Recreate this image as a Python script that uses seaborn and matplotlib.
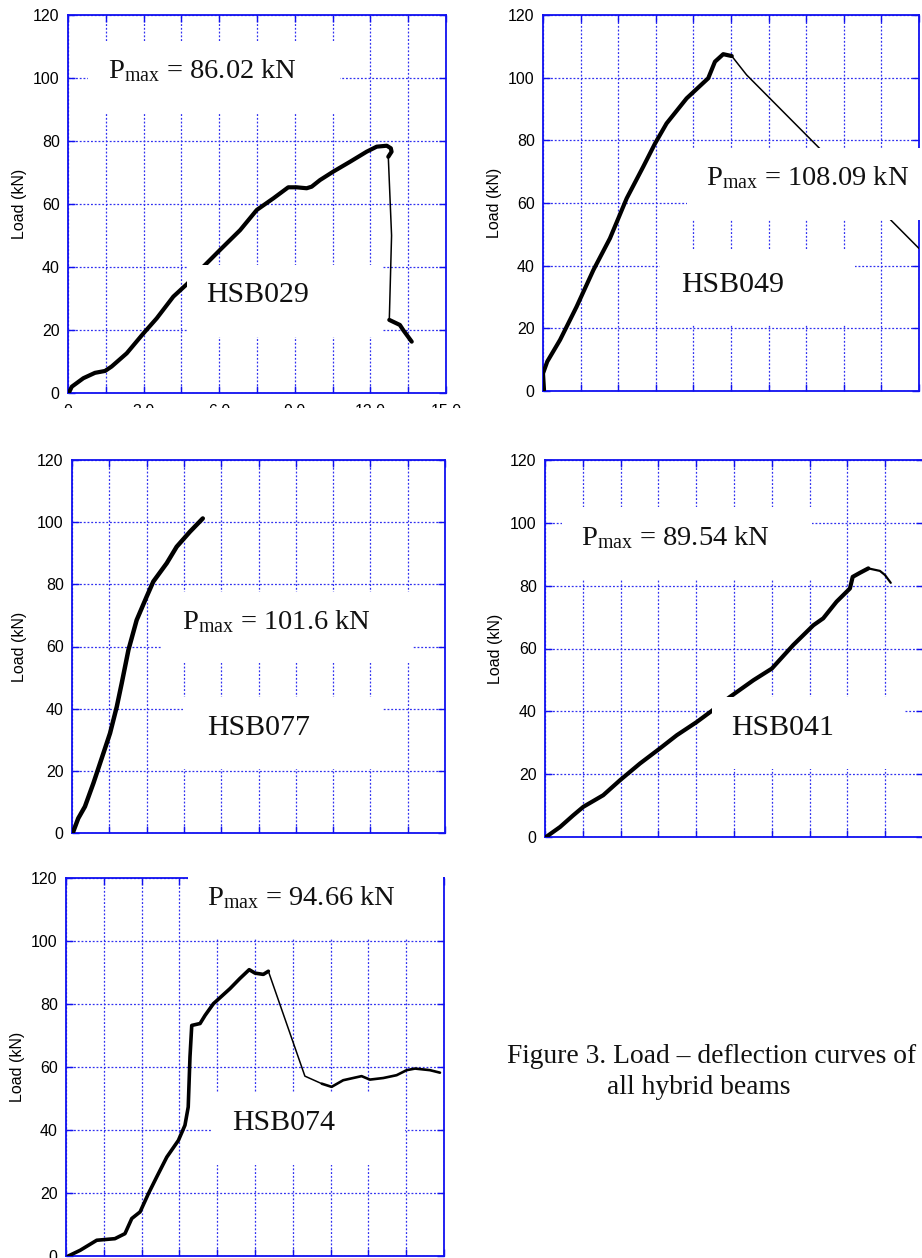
import numpy as np
import matplotlib
matplotlib.use("Agg")
import matplotlib.pyplot as plt
from matplotlib.patches import Rectangle
from matplotlib.ticker import FixedLocator, FixedFormatter
import seaborn as sns

# ---------------- data ----------------
beam_names = ["HSB029", "HSB049", "HSB077", "HSB041", "HSB074"]
pmax_labels = ["86.02", "108.09", "101.6", "89.54", "94.66"]

hsb029_defl = [0.03, 0.15, 0.61, 1.07, 1.47, 1.73, 2.33, 2.99, 3.52, 4.18, 4.75, 5.37, 6.03,
               6.83, 7.49, 8.15, 8.74, 9.07, 9.47, 9.67, 10.0, 10.53, 11.19, 11.85, 12.25,
               12.65, 12.81, 12.84, 12.71, 12.84, 12.75, 13.17, 13.3, 13.64]
hsb029_load = [0.0, 2.0, 4.7, 6.4, 7.0, 8.4, 12.6, 18.9, 23.7, 30.6, 34.8, 40.1, 45.4,
               51.7, 58.1, 61.8, 65.3, 65.3, 65.0, 65.5, 67.6, 70.3, 73.4, 76.6, 78.2,
               78.5, 77.7, 76.6, 75.0, 50.0, 23.2, 21.6, 20.0, 16.3]

hsb049_defl = [0.04, 0.0, 0.17, 0.68, 1.34, 2.01, 2.67, 3.34, 4.0, 4.47, 4.93, 5.73,
               6.59, 6.86, 7.19, 7.53, 8.12, 15.0]
hsb049_load = [0.3, 5.6, 9.4, 16.3, 26.9, 38.6, 48.7, 61.5, 71.6, 79.0, 85.4, 93.4,
               99.8, 105.1, 107.5, 106.9, 100.9, 45.5]

hsb077_defl = [0.03, 0.25, 0.52, 0.86, 1.26, 1.53, 1.80, 2.0, 2.27, 2.60, 3.0, 3.27,
               3.81, 4.21, 4.74, 5.26]
hsb077_load = [0.0, 4.7, 8.5, 16.0, 25.6, 32.1, 40.6, 48.2, 58.9, 68.5, 76.0, 80.9,
               86.8, 92.1, 96.9, 101.2]

hsb041_defl = [0.04, 0.6, 1.12, 1.52, 2.31, 2.98, 3.77, 4.56, 5.23, 6.02, 6.61, 7.34,
               8.27, 9.0, 9.85, 10.65, 11.04, 11.57, 12.10, 12.21, 12.5, 12.83, 13.29,
               13.49, 13.72]
hsb041_load = [0.0, 3.2, 6.9, 9.6, 13.3, 18.1, 23.4, 28.2, 32.4, 36.6, 40.1, 44.6,
               49.9, 53.6, 61.1, 67.4, 69.6, 74.9, 79.1, 82.8, 84.1, 85.5, 84.7,
               83.4, 80.9]

hsb074_defl = [0.09, 0.56, 1.22, 1.94, 2.34, 2.61, 2.94, 3.27, 3.6, 4.0, 4.46, 4.72,
               4.85, 4.92, 4.99, 5.32, 5.52, 5.85, 6.51, 6.9, 7.27, 7.5, 7.83, 8.03,
               9.48, 10.15, 10.54, 11.0, 11.73, 12.06, 12.59, 13.12, 13.52, 13.85,
               14.44, 14.84]
hsb074_load = [0.0, 1.8, 5.0, 5.5, 7.1, 11.9, 14.0, 19.8, 25.1, 31.4, 36.7, 41.5,
               47.3, 63.2, 73.2, 73.8, 76.4, 80.1, 84.9, 88.1, 90.9, 89.8, 89.4, 90.4,
               57.1, 54.7, 53.7, 55.8, 57.1, 56.0, 56.5, 57.4, 59.0, 59.5, 59.0, 58.2]

y_ticks = [0, 20, 40, 60, 80, 100, 120]
x_grid_step = 1.5
x_max = 15.0
x_tick_labels = ["0", "3.0", "6.0", "9.0", "12.0", "15.0"]
y_label = "Load (kN)"
caption_lines = ["Figure 3. Load \u2013 deflection curves of", "all hybrid beams"]

# ---------------- style ----------------
sns.set_theme(style="white")
plt.rcParams["font.family"] = ["Liberation Sans", "DejaVu Sans"]
plt.rcParams["mathtext.fontset"] = "custom"
plt.rcParams["mathtext.rm"] = "Liberation Serif"
plt.rcParams["mathtext.it"] = "Liberation Serif:italic"
plt.rcParams["mathtext.bf"] = "Liberation Serif:bold"

BLUE = "#1010f0"
GRID = "#3030f0"
SERIF = ["Liberation Serif", "DejaVu Serif"]
W, H = 922, 1258
fig = plt.figure(figsize=(W / 100, H / 100), dpi=100)


def px_axes(l, t, r, b):
    return fig.add_axes([l / W, 1 - b / H, (r - l) / W, (b - t) / H])


THICK = 3.0
panels = [
    dict(x=hsb029_defl, y=hsb029_load, rect=(68, 15, 446, 393),
         segs=[(0, 28, THICK), (28, 30, 1.1), (30, 33, THICK)],
         pbox=(0.053, 0.741, 0.72, 0.929), ptext=(0.106, 0.833),
         nbox=(0.315, 0.148, 0.831, 0.339), ntext=(0.366, 0.241), ylab=-0.108, xlab=True),
    dict(x=hsb049_defl, y=hsb049_load, rect=(543, 15, 919, 391),
         segs=[(0, 15, THICK), (15, 17, 1.1)],
         pbox=(0.383, 0.455, 1.03, 0.646), ptext=(0.434, 0.548),
         nbox=(0.311, 0.176, 0.830, 0.375), ntext=(0.368, 0.263), ylab=-0.109, xlab=False),
    dict(x=hsb077_defl, y=hsb077_load, rect=(72, 460, 445, 833),
         segs=[(0, 15, 3.2)],
         pbox=(0.241, 0.456, 0.914, 0.646), ptext=(0.296, 0.547),
         nbox=(0.298, 0.172, 0.831, 0.365), ntext=(0.363, 0.263), ylab=-0.121, xlab=False),
    dict(x=hsb041_defl, y=hsb041_load, rect=(545, 460, 923, 837),
         segs=[(0, 21, THICK), (21, 24, 1.6)],
         pbox=(0.045, 0.684, 0.706, 0.875), ptext=(0.096, 0.775),
         nbox=(0.442, 0.180, 0.952, 0.371), ntext=(0.493, 0.271), ylab=-0.111, xlab=False),
    dict(x=hsb074_defl, y=hsb074_load, rect=(66, 878, 444, 1256),
         segs=[(0, 23, 2.6), (23, 25, 1.1), (25, 35, 1.9)],
         pbox=(0.323, 0.841, 0.997, 1.04), ptext=(0.374, 0.929),
         nbox=(0.386, 0.241, 0.897, 0.434), ntext=(0.440, 0.333), ylab=-0.108, xlab=False),
]

x_grid = list(np.arange(0, x_max + 0.01, x_grid_step))
x_fmt = []
for i in range(len(x_grid)):
    x_fmt.append(x_tick_labels[i // 2] if i % 2 == 0 else "")

for i, p in enumerate(panels):
    ax = px_axes(*p["rect"])
    xs = np.array(p["x"])
    ys = np.array(p["y"])
    for a, b, lw in p["segs"]:
        sns.lineplot(x=xs[a:b + 1], y=ys[a:b + 1], sort=False, estimator=None,
                     color="black", linewidth=lw, ax=ax, zorder=3,
                     solid_capstyle="round", solid_joinstyle="round")
    ax.set_xlim(0, x_max)
    ax.set_ylim(0, 120)
    ax.xaxis.set_major_locator(FixedLocator(x_grid))
    ax.xaxis.set_major_formatter(FixedFormatter(x_fmt))
    ax.set_yticks(y_ticks)
    ax.set_axisbelow(True)
    ax.grid(True, color=GRID, linestyle=(0, (1.5, 1.5)), linewidth=0.9)
    for s in ax.spines.values():
        s.set_visible(True)
        s.set_color(BLUE)
        s.set_linewidth(1.3)
    ax.tick_params(axis="both", direction="in", color=BLUE, length=5, width=1.0,
                   top=True, right=True, bottom=True, left=True,
                   labelsize=11.5, labelcolor="black")
    ax.tick_params(axis="y", pad=6)
    ax.tick_params(axis="x", pad=8, labelbottom=p["xlab"])
    ax.set_xlabel("")
    ax.set_ylabel(y_label, fontsize=11.5, color="black")
    ax.yaxis.set_label_coords(p["ylab"], 0.5)

    for box in (p["pbox"], p["nbox"]):
        ax.add_patch(Rectangle((box[0], box[1]), box[2] - box[0], box[3] - box[1],
                               transform=ax.transAxes, facecolor="white",
                               edgecolor="none", zorder=4, clip_on=False))
    ax.text(p["ptext"][0], p["ptext"][1],
            r"P$_{\mathrm{max}}$ = " + pmax_labels[i] + " kN",
            transform=ax.transAxes, ha="left", va="baseline",
            fontsize=20.5, family=SERIF, color="#111111", zorder=5)
    ax.text(p["ntext"][0], p["ntext"][1], beam_names[i],
            transform=ax.transAxes, ha="left", va="baseline",
            fontsize=21.5, family=SERIF, color="#111111", zorder=5)

# the scanned picture cuts the first panel's x labels just below their tops
fig.add_artist(Rectangle((0, 1 - 445 / H), 0.5, (445 - 408) / H,
                         transform=fig.transFigure, facecolor="white",
                         edgecolor="none", zorder=10))

fig.text(507 / W, 1 - 1063 / H, caption_lines[0], ha="left", va="baseline",
         fontsize=19.8, family=SERIF, color="#111111")
fig.text(607 / W, 1 - 1094 / H, caption_lines[1], ha="left", va="baseline",
         fontsize=19.8, family=SERIF, color="#111111")

fig.savefig("out.png", dpi=100, facecolor="white")
